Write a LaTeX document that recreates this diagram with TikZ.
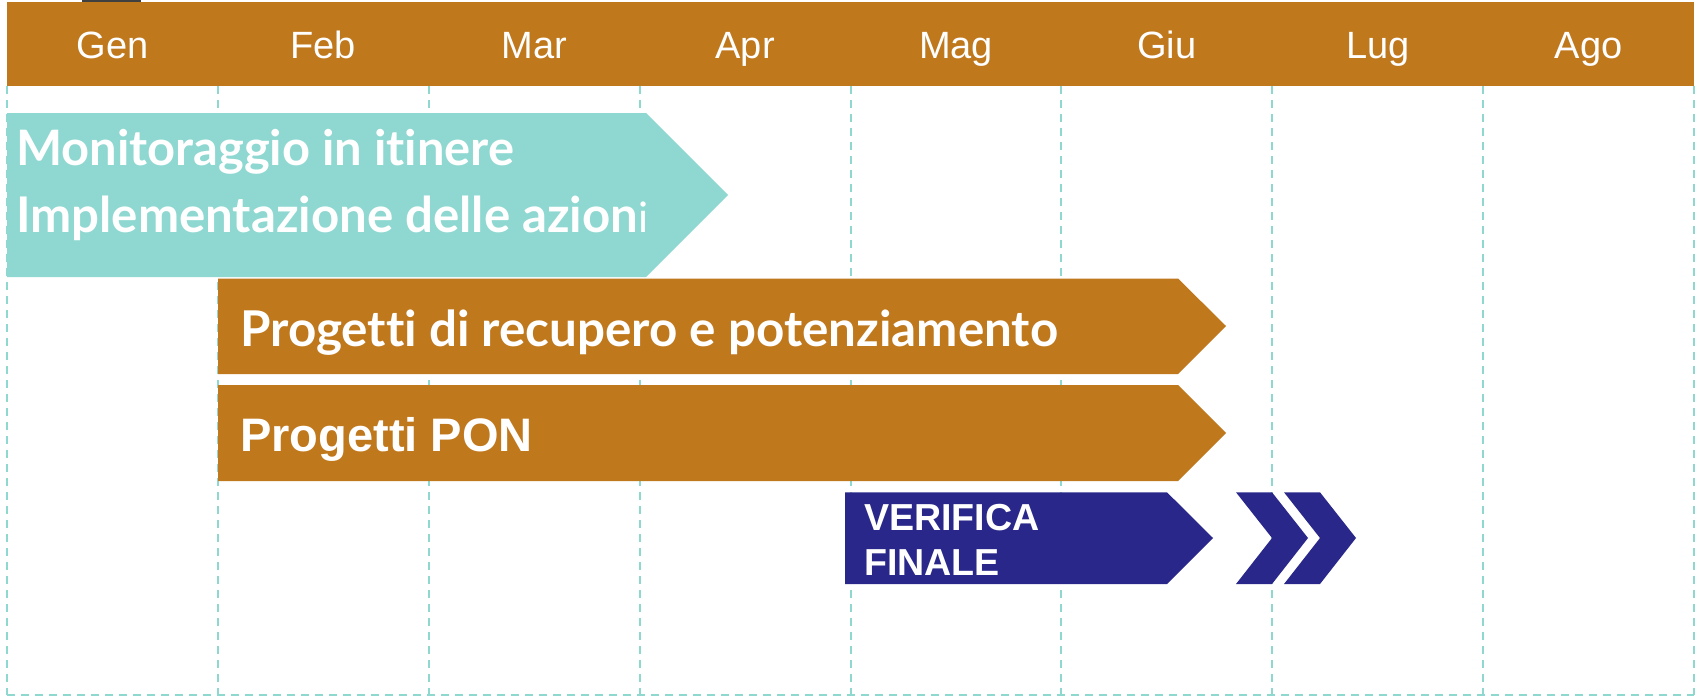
\documentclass[tikz,border=0pt]{standalone}
\usepackage{fontspec}
\setmainfont{Liberation Sans}
\newfontfamily\roundfont[Ligatures={NoCommon,NoRare,NoDiscretionary}]{Lato}
\definecolor{hdr}{RGB}{192,120,29}
\definecolor{tealbar}{RGB}{143,216,210}
\definecolor{navybar}{RGB}{41,40,138}
\definecolor{gridcol}{RGB}{142,216,208}
\definecolor{tabdark}{RGB}{64,64,64}
\newlength\natw
\newcommand\fitto[3]{%
  \settowidth\natw{#2\fontsize{40}{40}\selectfont #3}%
  \pgfmathsetmacro\myfs{#1/\natw*40}%
  {#2\fontsize{\myfs}{\myfs}\selectfont #3}}
\begin{document}
\begin{tikzpicture}[x=1pt,y=-1pt,
  gridline/.style={draw=gridcol, line width=2pt, dash pattern=on 8pt off 6pt},
  month/.style={text=white, font={\fontsize{38}{40}\selectfont}, anchor=base, inner sep=0pt},
  whitetext/.style={text=white, anchor=base west, inner sep=0pt},
  armfont/.style={font={\fontsize{47}{50}\selectfont\bfseries}},
  navyfont/.style={font={\fontsize{37.6}{40}\selectfont\bfseries}}]
\useasboundingbox (0,0) rectangle (1700,697);
% small dark tab at top
\fill[tabdark] (82,0) rectangle (141,2);
% grid
\foreach \i in {0,...,8}
  \draw[gridline] (7+210.875*\i,86) -- (7+210.875*\i,695);
\draw[gridline] (7,695) -- (1694,695);
% header
\fill[hdr] (7,2) rectangle (1694,86);
\foreach \m [count=\i from 0] in {Gen,Feb,Mar,Apr,Mag,Giu,Lug,Ago}
  \node[month] (m\i) at (112.5+210.875*\i,58.3) {\m};
% bars
\fill[tealbar] (7,113) -- (646,113) -- (728,195) -- (646,277) -- (7,277) -- cycle;
\fill[hdr] (218,278.5) -- (1178,278.5) -- (1226,326) -- (1178,374) -- (218,374) -- cycle;
\fill[hdr] (218,385) -- (1178,385) -- (1226,433) -- (1178,481) -- (218,481) -- cycle;
\fill[navybar] (845,492.3) -- (1167,492.3) -- (1213,538) -- (1167,584) -- (845,584) -- cycle;
\fill[navybar] (1236,492.3) -- (1272,492.3) -- (1308,538) -- (1272,584) -- (1236,584) -- (1272,538) -- cycle;
\fill[navybar] (1284,492.3) -- (1320,492.3) -- (1356,538) -- (1320,584) -- (1284,584) -- (1320,538) -- cycle;
% texts
\node[whitetext] (t1) at (16,165) {\fitto{498}{\roundfont\bfseries}{Monitoraggio in itinere}};
\node[whitetext] (t2) at (16,232) {\fitto{622}{\roundfont\bfseries}{Implementazione delle azion}{\roundfont\fontsize{42}{42}\selectfont i}};
\node[whitetext] (b1) at (240,346.7) {\fitto{818}{\roundfont\bfseries}{Progetti di recupero e potenziamento}};
\node[whitetext,armfont] (b2) at (240,451.7) {Progetti PON};
\node[whitetext,navyfont] (v1) at (864,530.7) {VERIFICA};
\node[whitetext,navyfont] (v2) at (864,575) {FINALE};
\end{tikzpicture}
\end{document}
